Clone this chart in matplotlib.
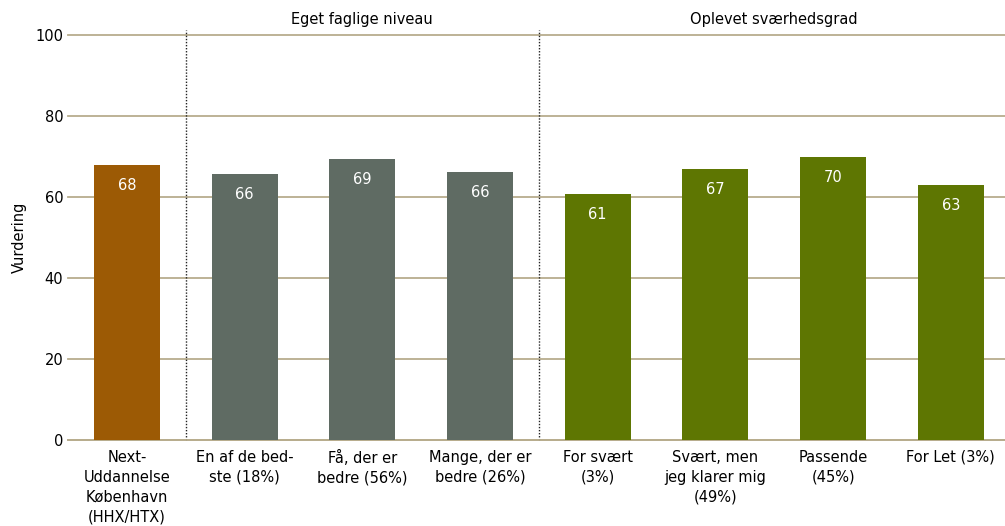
import matplotlib.pyplot as plt

labels = ["Next-\nUddannelse\nKøbenhavn\n(HHX/HTX)", "En af de bed-\nste (18%)", "Få, der er\nbedre (56%)",
          "Mange, der er\nbedre (26%)", "For svært\n(3%)", "Svært, men\njeg klarer mig\n(49%)",
          "Passende\n(45%)", "For Let (3%)"]
values = [67.9, 65.7, 69.4, 66.2, 60.7, 66.9, 69.9, 63.0]
shown = [68, 66, 69, 66, 61, 67, 70, 63]
groups = ["Eget faglige niveau", "Oplevet sværhedsgrad"]

colors = ["#9C5A05"] + ["#5F6B63"] * 3 + ["#5E7602"] * 4
grid_c = "#B8AD8E"

fig = plt.figure(figsize=(10.05, 5.26), dpi=100)
ax = fig.add_axes([68 / 1005, 1 - 440 / 526, 937 / 1005, 405 / 526])

x = list(range(len(values)))
bars = ax.bar(x, values, width=0.56, color=colors, zorder=3)
for xi, v, s in zip(x, values, shown):
    ax.text(xi, v - 5.0, str(s), ha="center", va="center", color="white", fontsize=10.5, zorder=4)

ax.set_xlim(-0.5, 7.46)
ax.set_ylim(0, 100)
ax.set_yticks([0, 20, 40, 60, 80, 100])
ax.yaxis.grid(True, color=grid_c, linewidth=1.3, zorder=0)
for gl in ax.get_ygridlines():
    gl.set_clip_on(False)
ax.set_axisbelow(True)
for s in ["left", "right", "top"]:
    ax.spines[s].set_visible(False)
ax.spines["bottom"].set_color(grid_c)
ax.spines["bottom"].set_linewidth(1.3)
ax.tick_params(axis="both", length=0, labelsize=10.5, colors="black")
ax.tick_params(axis="x", pad=7)
ax.set_xticks(x)
ax.set_xticklabels(labels, linespacing=1.4)
ax.set_ylabel("Vurdering", fontsize=10.5, labelpad=6)

for xd in [0.5, 3.5]:
    ax.plot([xd, xd], [0, 101.2], color="#222222", linestyle=(0, (1, 1.2)), linewidth=1, clip_on=False, zorder=2)

ax.text(2, 103.8, groups[0], ha="center", va="center", fontsize=10.5)
ax.text(5.5, 103.8, groups[1], ha="center", va="center", fontsize=10.5)

fig.savefig("out.png", dpi=100)
